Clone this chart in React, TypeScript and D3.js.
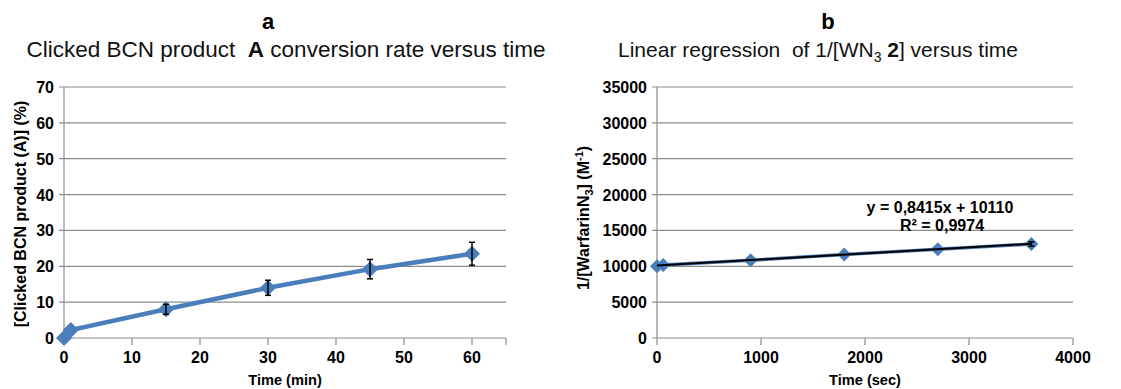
import React from "react";
import * as d3 from "d3";

// Panel a data
const timeMin = [0, 1, 15, 30, 45, 60];
const conversion = [0, 2.2, 8.0, 14.0, 19.2, 23.5];
const conversionErr = [0, 0, 1.4, 2.1, 2.7, 3.2];
const xTicksA = [0, 10, 20, 30, 40, 50, 60];
const yTicksA = [0, 10, 20, 30, 40, 50, 60, 70];

// Panel b data
const timeSec = [0, 60, 900, 1800, 2700, 3600];
const invConc = [10000, 10180, 10830, 11650, 12370, 13100];
const invConcErr = [0, 0, 0, 0, 0, 300];
const xTicksB = [0, 1000, 2000, 3000, 4000];
const yTicksB = [0, 5000, 10000, 15000, 20000, 25000, 30000, 35000];
const slope = 0.8415;
const intercept = 10110;

const FONT = "'Liberation Sans', Arial, sans-serif";
const BLUE = "#4A7EBB";
const GRID = "#8C8C8C";

function diamond(x: number, y: number, r: number) {
  return `M${x},${y - r}L${x + r},${y}L${x},${y + r}L${x - r},${y}Z`;
}

export default function App() {
  const top = 87;
  const bottom = 338;

  const xA = d3.scaleLinear().domain([0, 65]).range([64, 506]);
  const yA = d3.scaleLinear().domain([0, 70]).range([bottom, top]);
  const xB = d3.scaleLinear().domain([0, 4000]).range([657, 1073]);
  const yB = d3.scaleLinear().domain([0, 35000]).range([bottom, top]);

  const lineA = d3
    .line<number>()
    .x((_, i) => xA(timeMin[i]))
    .y((d) => yA(d));
  const lineB = d3
    .line<number>()
    .x((_, i) => xB(timeSec[i]))
    .y((d) => yB(d));

  const trendX = [timeSec[0], timeSec[timeSec.length - 1]];

  return (
    <svg width={1121} height={389} style={{ position: "absolute", left: 0, top: 0, background: "#fff" }} fontFamily={FONT}>
      {/* Panel a */}
      <text x={268} y={29} textAnchor="middle" fontSize={22} fontWeight="bold">a</text>
      <text x={286} y={57} textAnchor="middle" fontSize={22.5} fill="#111">
        Clicked BCN product{"\u00A0\u00A0"}<tspan fontWeight="bold">A</tspan> conversion rate versus time
      </text>
      {yTicksA.map((t) => (
        <g key={"ga" + t}>
          <line x1={xA(0) - 5} x2={xA(65)} y1={yA(t)} y2={yA(t)} stroke={GRID} strokeWidth={1.2} />
          <text x={54} y={yA(t) + 6} textAnchor="end" fontSize={16} fontWeight="bold">{t}</text>
        </g>
      ))}
      <line x1={xA(0)} x2={xA(0)} y1={top} y2={bottom} stroke={GRID} strokeWidth={1.2} />
      {xTicksA.map((t) => (
        <g key={"xa" + t}>
          <line x1={xA(t)} x2={xA(t)} y1={bottom} y2={bottom + 7} stroke={GRID} strokeWidth={1.2} />
          <text x={xA(t)} y={bottom + 25} textAnchor="middle" fontSize={16} fontWeight="bold">{t}</text>
        </g>
      ))}
      <line x1={xA(65)} x2={xA(65)} y1={bottom} y2={bottom + 7} stroke={GRID} strokeWidth={1.2} />
      <text x={285} y={385} textAnchor="middle" fontSize={14.6} fontWeight="bold">Time (min)</text>
      <text transform={`translate(26,${214}) rotate(-90)`} textAnchor="middle" fontSize={16} fontWeight="bold">
        [Clicked BCN product (A)] (%)
      </text>
      <path d={lineA(conversion) || ""} fill="none" stroke={BLUE} strokeWidth={4.5} />
      {conversion.map((v, i) => (
        <path key={"ma" + i} d={diamond(xA(timeMin[i]), yA(v), 8)} fill={BLUE} />
      ))}
      {conversion.map((v, i) =>
        conversionErr[i] > 0 ? (
          <g key={"ea" + i} stroke="#000" strokeWidth={1.5}>
            <line x1={xA(timeMin[i])} x2={xA(timeMin[i])} y1={yA(v - conversionErr[i])} y2={yA(v + conversionErr[i])} />
            <line x1={xA(timeMin[i]) - 3} x2={xA(timeMin[i]) + 3} y1={yA(v - conversionErr[i])} y2={yA(v - conversionErr[i])} />
            <line x1={xA(timeMin[i]) - 3} x2={xA(timeMin[i]) + 3} y1={yA(v + conversionErr[i])} y2={yA(v + conversionErr[i])} />
          </g>
        ) : null
      )}

      {/* Panel b */}
      <text x={828} y={29} textAnchor="middle" fontSize={22} fontWeight="bold">b</text>
      <text x={818} y={57} textAnchor="middle" fontSize={21} fill="#111">
        Linear regression{"\u00A0\u00A0"}of 1/[WN<tspan fontSize={14} dy={5}>3</tspan>
        <tspan dy={-5}> </tspan>
        <tspan fontWeight="bold">2</tspan>] versus time
      </text>
      {yTicksB.map((t) => (
        <g key={"gb" + t}>
          <line x1={xB(0) - 5} x2={xB(4000)} y1={yB(t)} y2={yB(t)} stroke={GRID} strokeWidth={1.2} />
          <text x={647} y={yB(t) + 6} textAnchor="end" fontSize={16} fontWeight="bold">{t}</text>
        </g>
      ))}
      <line x1={xB(0)} x2={xB(0)} y1={top} y2={bottom} stroke={GRID} strokeWidth={1.2} />
      {xTicksB.map((t) => (
        <g key={"xb" + t}>
          <line x1={xB(t)} x2={xB(t)} y1={bottom} y2={bottom + 7} stroke={GRID} strokeWidth={1.2} />
          <text x={xB(t)} y={bottom + 25} textAnchor="middle" fontSize={16} fontWeight="bold">{t}</text>
        </g>
      ))}
      <text x={865} y={385} textAnchor="middle" fontSize={14.6} fontWeight="bold">Time (sec)</text>
      <text transform={`translate(589,${218}) rotate(-90)`} textAnchor="middle" fontSize={16} fontWeight="bold">
        1/[WarfarinN<tspan fontSize={11} dy={4}>3</tspan><tspan dy={-4}>] (M</tspan>
        <tspan fontSize={11} dy={-6}>-1</tspan><tspan dy={6}>)</tspan>
      </text>
      <path d={lineB(invConc) || ""} fill="none" stroke={BLUE} strokeWidth={3.5} />
      {invConc.map((v, i) => (
        <path key={"mb" + i} d={diamond(xB(timeSec[i]), yB(v), 7)} fill={BLUE} />
      ))}
      {invConc.map((v, i) =>
        invConcErr[i] > 0 ? (
          <g key={"eb" + i} stroke="#000" strokeWidth={1.5}>
            <line x1={xB(timeSec[i])} x2={xB(timeSec[i])} y1={yB(v - invConcErr[i])} y2={yB(v + invConcErr[i])} />
            <line x1={xB(timeSec[i]) - 3} x2={xB(timeSec[i]) + 3} y1={yB(v - invConcErr[i])} y2={yB(v - invConcErr[i])} />
            <line x1={xB(timeSec[i]) - 3} x2={xB(timeSec[i]) + 3} y1={yB(v + invConcErr[i])} y2={yB(v + invConcErr[i])} />
          </g>
        ) : null
      )}
      <line
        x1={xB(trendX[0])}
        x2={xB(trendX[1])}
        y1={yB(slope * trendX[0] + intercept)}
        y2={yB(slope * trendX[1] + intercept)}
        stroke="#000"
        strokeWidth={2}
      />
      <text x={940} y={213} textAnchor="middle" fontSize={16} fontWeight="bold">y = 0,8415x + 10110</text>
      <text x={942} y={231} textAnchor="middle" fontSize={16} fontWeight="bold">R² = 0,9974</text>
    </svg>
  );
}
